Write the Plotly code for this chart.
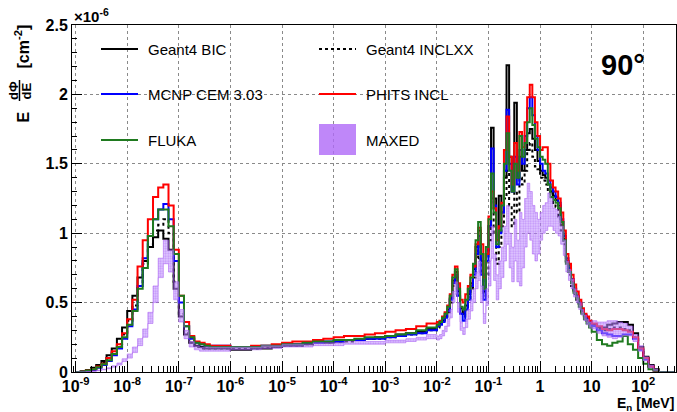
import numpy as np
import plotly.graph_objects as go

# ---- binning (log10 of E in MeV): thermal 0.1 dec, epithermal 0.2 dec, fast 0.05 dec, high 0.1 dec
edges_log = np.concatenate([
    np.linspace(-9.0, -6.0, 31)[:-1],
    np.linspace(-6.0, -2.0, 21)[:-1],
    np.linspace(-2.0, 1.0, 61)[:-1],
    np.linspace(1.0, 2.6, 17),
])
edges = 10 ** edges_log

# ---- values: E dPhi/dE in units of 1e-6 cm^-2
geant4_bic = [
    0.0, 0.005, 0.015, 0.03, 0.05, 0.08, 0.12, 0.17, 0.24, 0.32, 0.44, 0.55, 0.68, 0.80, 0.90,
    0.97, 1.02, 0.96, 0.88, 0.60, 0.40, 0.27, 0.21, 0.19, 0.18, 0.17, 0.17, 0.17, 0.17, 0.17,
    0.16, 0.16, 0.17, 0.17, 0.18, 0.19, 0.19, 0.20, 0.21, 0.21, 0.22, 0.23, 0.23, 0.24, 0.25,
    0.26, 0.27, 0.28, 0.29, 0.31,
    0.33, 0.35, 0.37, 0.40, 0.45, 0.53, 0.66, 0.72, 0.58, 0.46, 0.42, 0.48, 0.56, 0.64, 0.74,
    0.90, 1.02, 0.80, 0.58, 0.85, 1.05, 1.76, 1.25, 0.95, 1.27, 1.15, 1.40, 2.21, 1.55, 1.30,
    1.94, 1.40, 1.55, 1.45, 1.60, 1.72, 1.75, 1.68, 1.60, 1.52, 1.45, 1.42, 1.40, 1.35, 1.30,
    1.27, 1.24, 1.20, 1.08, 0.96, 0.80, 0.73, 0.65, 0.58, 0.54, 0.49, 0.44, 0.40, 0.37, 0.35,
    0.34, 0.32, 0.32, 0.34, 0.35, 0.36, 0.36, 0.34, 0.28, 0.18, 0.11, 0.05, 0.02, 0.0, 0.0, 0.0,
]
geant4_inclxx = [
    0.0, 0.004, 0.012, 0.025, 0.04, 0.065, 0.10, 0.14, 0.20, 0.27, 0.37, 0.48, 0.62, 0.78, 0.92,
    1.02, 1.06, 1.10, 1.00, 0.65, 0.42, 0.28, 0.21, 0.18, 0.17, 0.17, 0.17, 0.17, 0.17, 0.17,
    0.17, 0.17, 0.17, 0.18, 0.18, 0.19, 0.19, 0.20, 0.21, 0.21, 0.22, 0.22, 0.23, 0.24, 0.24,
    0.25, 0.26, 0.27, 0.28, 0.30,
    0.32, 0.34, 0.36, 0.39, 0.43, 0.50, 0.62, 0.68, 0.55, 0.43, 0.40, 0.46, 0.53, 0.60, 0.68,
    0.82, 0.92, 0.72, 0.55, 0.70, 0.95, 1.25, 1.00, 0.78, 0.90, 1.05, 1.25, 1.45, 1.20, 1.05,
    1.30, 1.15, 1.40, 1.35, 1.45, 1.60, 1.65, 1.55, 1.48, 1.46, 1.40, 1.38, 1.35, 1.30, 1.26,
    1.20, 1.19, 1.12, 1.02, 0.92, 0.78, 0.70, 0.62, 0.56, 0.52, 0.47, 0.42, 0.39, 0.36, 0.34,
    0.33, 0.31, 0.30, 0.31, 0.32, 0.32, 0.31, 0.30, 0.25, 0.17, 0.10, 0.04, 0.01, 0.0, 0.0, 0.0,
]
mcnp_cem = [
    0.0, 0.003, 0.008, 0.015, 0.03, 0.05, 0.08, 0.12, 0.17, 0.24, 0.33, 0.45, 0.62, 0.82, 0.98,
    1.10, 1.17, 1.21, 1.10, 0.80, 0.50, 0.33, 0.24, 0.21, 0.20, 0.19, 0.19, 0.19, 0.19, 0.19,
    0.18, 0.18, 0.18, 0.19, 0.19, 0.20, 0.20, 0.21, 0.21, 0.22, 0.22, 0.23, 0.23, 0.24, 0.24,
    0.25, 0.26, 0.27, 0.28, 0.30,
    0.33, 0.34, 0.36, 0.39, 0.44, 0.52, 0.64, 0.70, 0.55, 0.42, 0.37, 0.45, 0.52, 0.62, 0.70,
    0.85, 0.98, 0.70, 0.52, 0.80, 1.05, 1.61, 1.20, 0.90, 1.00, 1.15, 1.45, 1.89, 1.50, 1.30,
    1.55, 1.35, 1.60, 1.50, 1.70, 1.90, 1.98, 1.85, 1.70, 1.60, 1.50, 1.45, 1.43, 1.38, 1.33,
    1.30, 1.26, 1.22, 1.10, 0.98, 0.82, 0.75, 0.67, 0.60, 0.55, 0.50, 0.45, 0.41, 0.38, 0.36,
    0.33, 0.30, 0.28, 0.27, 0.26, 0.26, 0.27, 0.27, 0.24, 0.16, 0.09, 0.04, 0.01, 0.0, 0.0, 0.0,
]
phits_incl = [
    0.0, 0.003, 0.01, 0.02, 0.04, 0.06, 0.10, 0.15, 0.20, 0.28, 0.38, 0.52, 0.76, 0.95, 1.10,
    1.26, 1.33, 1.35, 1.20, 0.88, 0.55, 0.36, 0.26, 0.22, 0.21, 0.20, 0.19, 0.19, 0.19, 0.19,
    0.18, 0.18, 0.19, 0.19, 0.20, 0.21, 0.22, 0.22, 0.23, 0.24, 0.25, 0.26, 0.26, 0.27, 0.28,
    0.29, 0.30, 0.31, 0.33, 0.35,
    0.36, 0.37, 0.40, 0.43, 0.48, 0.56, 0.70, 0.76, 0.64, 0.52, 0.50, 0.56, 0.62, 0.70, 0.76,
    0.92, 1.04, 0.92, 0.68, 0.85, 1.12, 1.30, 1.18, 0.95, 1.05, 1.22, 1.60, 1.84, 1.55, 1.35,
    1.65, 1.45, 1.73, 1.62, 1.80, 1.98, 2.07, 1.98, 1.80, 1.70, 1.60, 1.62, 1.62, 1.50, 1.38,
    1.33, 1.30, 1.25, 1.15, 1.02, 0.85, 0.78, 0.70, 0.63, 0.58, 0.52, 0.46, 0.42, 0.40, 0.37,
    0.35, 0.33, 0.31, 0.30, 0.31, 0.31, 0.30, 0.29, 0.25, 0.17, 0.10, 0.04, 0.01, 0.0, 0.0, 0.0,
]
fluka = [
    0.0, 0.003, 0.01, 0.02, 0.035, 0.055, 0.085, 0.13, 0.18, 0.25, 0.34, 0.44, 0.60, 0.75, 0.98,
    1.10, 1.17, 1.17, 1.05, 0.85, 0.55, 0.33, 0.25, 0.21, 0.20, 0.19, 0.18, 0.18, 0.18, 0.18,
    0.18, 0.18, 0.18, 0.19, 0.19, 0.20, 0.20, 0.21, 0.22, 0.22, 0.23, 0.23, 0.24, 0.25, 0.25,
    0.26, 0.27, 0.28, 0.30, 0.32,
    0.34, 0.36, 0.39, 0.42, 0.47, 0.55, 0.68, 0.74, 0.60, 0.47, 0.45, 0.52, 0.60, 0.68, 0.78,
    0.95, 1.08, 0.85, 0.60, 0.90, 1.10, 1.43, 1.15, 0.92, 1.02, 1.20, 1.50, 1.72, 1.45, 1.30,
    1.50, 1.40, 1.70, 1.55, 1.65, 1.80, 1.90, 1.78, 1.68, 1.62, 1.55, 1.53, 1.50, 1.35, 1.26,
    1.24, 1.22, 1.18, 1.08, 0.95, 0.78, 0.72, 0.64, 0.57, 0.53, 0.47, 0.42, 0.38, 0.35, 0.32,
    0.29, 0.23, 0.20, 0.19, 0.21, 0.22, 0.26, 0.20, 0.16, 0.10, 0.06, 0.02, 0.01, 0.0, 0.0, 0.0,
]
maxed_upper = [
    0.0, 0.0, 0.003, 0.006, 0.012, 0.02, 0.03, 0.045, 0.065, 0.095, 0.13, 0.18, 0.24, 0.31, 0.43,
    0.62, 0.82, 0.95, 0.88, 0.65, 0.45, 0.30, 0.22, 0.19, 0.18, 0.18, 0.18, 0.18, 0.18, 0.18,
    0.18, 0.18, 0.18, 0.19, 0.19, 0.20, 0.20, 0.20, 0.21, 0.21, 0.21, 0.22, 0.22, 0.22, 0.22,
    0.23, 0.23, 0.24, 0.25, 0.27,
    0.26, 0.27, 0.30, 0.33, 0.38, 0.45, 0.58, 0.65, 0.50, 0.36, 0.32, 0.38, 0.45, 0.52, 0.60,
    0.72, 0.80, 0.62, 0.42, 0.60, 0.80, 1.05, 0.85, 0.70, 0.80, 0.90, 1.05, 1.20, 1.00, 0.90,
    1.10, 0.95, 1.15, 1.10, 1.25, 1.36, 1.30, 1.20, 1.15, 1.10, 1.15, 1.20, 1.22, 1.29, 1.25,
    1.18, 1.17, 1.12, 1.05, 0.95, 0.80, 0.74, 0.67, 0.60, 0.55, 0.50, 0.45, 0.41, 0.38, 0.36,
    0.37, 0.36, 0.36, 0.37, 0.37, 0.36, 0.35, 0.33, 0.27, 0.19, 0.11, 0.05, 0.02, 0.0, 0.0, 0.0,
]
maxed_lower = [
    0.0, 0.0, 0.002, 0.004, 0.009, 0.015, 0.023, 0.035, 0.05, 0.075, 0.10, 0.14, 0.19, 0.25, 0.35,
    0.50, 0.68, 0.78, 0.72, 0.52, 0.36, 0.24, 0.18, 0.16, 0.15, 0.15, 0.15, 0.15, 0.15, 0.15,
    0.16, 0.16, 0.16, 0.17, 0.17, 0.18, 0.18, 0.18, 0.19, 0.19, 0.19, 0.20, 0.20, 0.20, 0.20,
    0.21, 0.21, 0.22, 0.23, 0.24,
    0.23, 0.24, 0.26, 0.29, 0.33, 0.39, 0.50, 0.56, 0.43, 0.30, 0.27, 0.32, 0.38, 0.44, 0.50,
    0.60, 0.66, 0.50, 0.35, 0.48, 0.62, 0.82, 0.66, 0.52, 0.60, 0.68, 0.80, 0.92, 0.75, 0.65,
    0.80, 0.65, 0.62, 0.75, 0.90, 1.00, 0.95, 0.85, 0.80, 0.85, 0.95, 1.00, 1.02, 1.05, 1.05,
    1.02, 1.00, 0.98, 0.92, 0.84, 0.72, 0.66, 0.60, 0.54, 0.50, 0.45, 0.41, 0.37, 0.34, 0.32,
    0.31, 0.28, 0.26, 0.25, 0.24, 0.25, 0.26, 0.26, 0.22, 0.15, 0.08, 0.03, 0.01, 0.0, 0.0, 0.0,
]

x_tickvals = [10.0 ** p for p in range(-9, 3)]
x_ticktext = ["10<sup>-9</sup>", "10<sup>-8</sup>", "10<sup>-7</sup>", "10<sup>-6</sup>",
              "10<sup>-5</sup>", "10<sup>-4</sup>", "10<sup>-3</sup>", "10<sup>-2</sup>",
              "10<sup>-1</sup>", "1", "10", "10<sup>2</sup>"]
y_tickvals = [0, 0.5, 1.0, 1.5, 2.0, 2.5]
y_ticktext = ["0", "0.5", "1", "1.5", "2", "2.5"]

series = [
    ("Geant4 BIC", geant4_bic, "#000000", "solid"),
    ("Geant4 INCLXX", geant4_inclxx, "#000000", "dot"),
    ("MCNP CEM 3.03", mcnp_cem, "#0000ff", "solid"),
    ("PHITS INCL", phits_incl, "#ff0000", "solid"),
    ("FLUKA", fluka, "#1f7a1f", "solid"),
]

def stepy(v):
    return list(v) + [v[-1]]

fig = go.Figure()
for name, vals, col, dash in series:
    fig.add_trace(go.Scatter(x=edges, y=stepy(vals), mode="lines", name=name,
                             line=dict(color=col, width=2, dash=dash, shape="hv"),
                             showlegend=False))

fig.add_trace(go.Scatter(x=edges, y=stepy(maxed_lower), mode="lines",
                         line=dict(color="rgba(160,80,240,0.6)", width=0.8, shape="hv"),
                         showlegend=False))
fig.add_trace(go.Scatter(x=edges, y=stepy(maxed_upper), mode="lines", name="MAXED",
                         line=dict(color="rgba(160,80,240,0.6)", width=0.8, shape="hv"),
                         fill="tonexty",
                         fillpattern=dict(shape=".", fgcolor="rgba(150,70,240,0.85)",
                                          bgcolor="rgba(195,150,255,0.5)", size=2.5, solidity=0.45),
                         showlegend=False))

L, R, T, B = 72, 1, 25, 40
W, H = 677, 412
PW, PH = W - L - R, H - T - B

def px(x):
    return (x - L) / PW

def py(y):
    return (H - B - y) / PH

shapes = []
ann = []
font_leg = dict(family="Liberation Sans, Arial, sans-serif", size=15, color="black")

legend_items = [
    ("Geant4 BIC", "#000000", "solid", 101, 49),
    ("Geant4 INCLXX", "#000000", "dot", 319, 49),
    ("MCNP CEM 3.03", "#0000ff", "solid", 101, 94),
    ("PHITS INCL", "#ff0000", "solid", 319, 94),
    ("FLUKA", "#1f7a1f", "solid", 101, 140),
]
for name, col, dash, x0, y0 in legend_items:
    shapes.append(dict(type="line", xref="paper", yref="paper",
                       x0=px(x0), x1=px(x0 + 37), y0=py(y0), y1=py(y0),
                       line=dict(color=col, width=2, dash=dash)))
    ann.append(dict(text=name, xref="paper", yref="paper", x=px(x0 + 45), y=py(y0),
                    xanchor="left", yanchor="middle", showarrow=False, font=font_leg))
shapes.append(dict(type="rect", xref="paper", yref="paper",
                   x0=px(319), x1=px(356), y0=py(155), y1=py(124),
                   line=dict(width=0), fillcolor="rgba(175,105,248,0.8)"))
ann.append(dict(text="MAXED", xref="paper", yref="paper", x=px(364), y=py(140),
                xanchor="left", yanchor="middle", showarrow=False, font=font_leg))

bold = dict(family="Liberation Sans, Arial, sans-serif", color="black", weight="bold")
ann.append(dict(text="<b>90°</b>", xref="paper", yref="paper", x=px(599), y=py(65),
                xanchor="left", yanchor="middle", showarrow=False, font=dict(size=29, **bold)))
ann.append(dict(text="×10<sup>-6</sup>", xref="paper", yref="paper", x=0, y=1,
                xanchor="left", yanchor="bottom", yshift=-2, showarrow=False,
                font=dict(size=15, **bold)))
ann.append(dict(text="<b>E<sub>n</sub> [MeV]</b>", xref="paper", yref="paper", x=1, y=py(404),
                xanchor="right", yanchor="middle", showarrow=False, font=dict(size=14, **bold)))
# y-axis title: E dPhi/dE [cm^-2]
ann.append(dict(text="<b>E</b>", xref="paper", yref="paper", x=px(22.5), y=py(117), textangle=-90,
                xanchor="center", yanchor="middle", showarrow=False, font=dict(size=16, **bold)))
ann.append(dict(text="<b>dΦ</b>", xref="paper", yref="paper", x=px(13), y=py(91), textangle=-90,
                xanchor="center", yanchor="middle", showarrow=False, font=dict(size=13, **bold)))
ann.append(dict(text="<b>dE</b>", xref="paper", yref="paper", x=px(25.5), y=py(91), textangle=-90,
                xanchor="center", yanchor="middle", showarrow=False, font=dict(size=13, **bold)))
shapes.append(dict(type="line", xref="paper", yref="paper", x0=px(19.5), x1=px(19.5),
                   y0=py(101), y1=py(80), line=dict(color="black", width=1.5)))
ann.append(dict(text="<b>[cm<sup>-2</sup>]</b>", xref="paper", yref="paper", x=px(22.5), y=py(47),
                textangle=-90, xanchor="center", yanchor="middle", showarrow=False,
                font=dict(size=16, **bold)))

minor_x = [m * 10.0 ** p for p in range(-10, 3) for m in range(2, 10)]

fig.update_layout(
    width=W, height=H, margin=dict(l=L, r=R, t=T, b=B),
    paper_bgcolor="white", plot_bgcolor="white",
    shapes=shapes, annotations=ann, showlegend=False,
    xaxis=dict(type="log", range=[-9.07, 2.634], tickmode="array", tickvals=x_tickvals,
               ticktext=["<b>" + t + "</b>" for t in x_ticktext], ticks="inside", ticklen=11,
               tickcolor="black",
               tickfont=dict(size=16, **bold), showline=True, linecolor="black", linewidth=1,
               mirror=True, showgrid=True, gridcolor="#8a8a8a", griddash="dot", gridwidth=1,
               zeroline=False,
               minor=dict(tickmode="array", tickvals=minor_x, ticks="inside", ticklen=6,
                          tickcolor="black", showgrid=False)),
    yaxis=dict(range=[0, 2.5], tickmode="array", tickvals=y_tickvals,
               ticktext=["<b>" + t + "</b>" for t in y_ticktext], ticks="inside",
               ticklen=10, tickcolor="black", tickfont=dict(size=16, **bold),
               showline=True, linecolor="black", linewidth=1, mirror=True,
               showgrid=True, gridcolor="#8a8a8a", griddash="dot", gridwidth=1, zeroline=False,
               minor=dict(dtick=0.1, tick0=0, ticks="inside", ticklen=5, tickcolor="black",
                          showgrid=False)),
)

fig.write_html("out.html")
